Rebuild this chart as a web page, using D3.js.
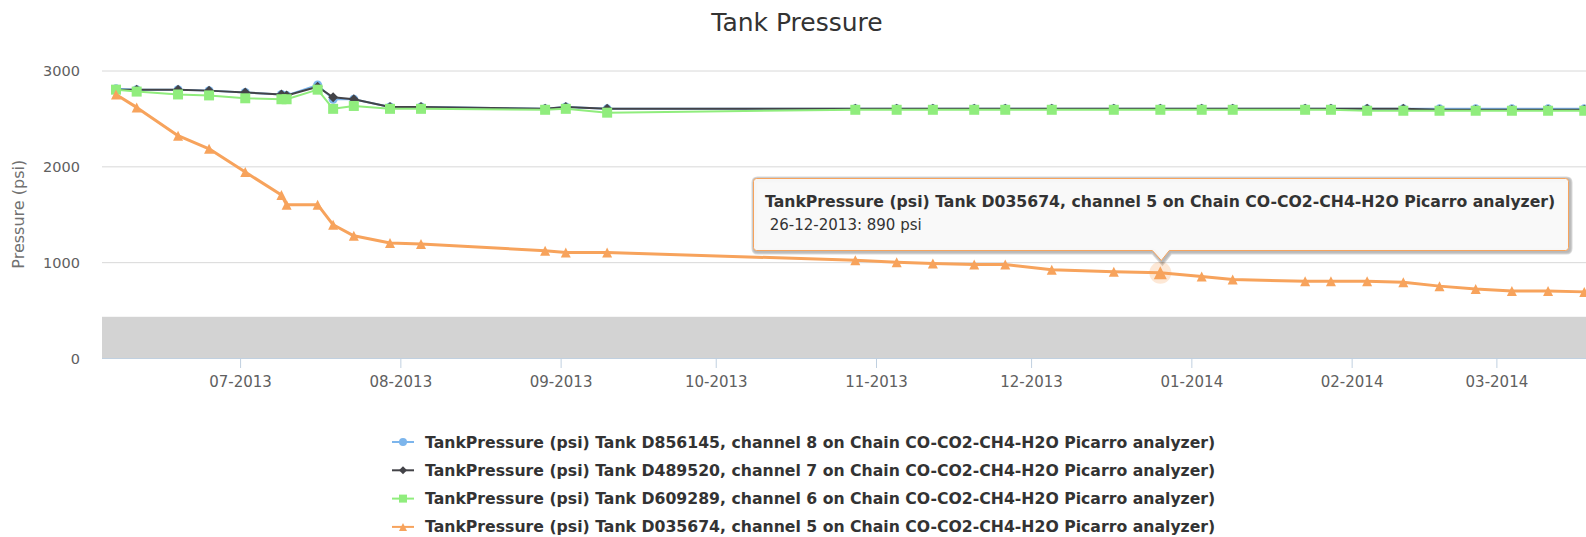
<!DOCTYPE html>
<html>
<head>
<meta charset="utf-8">
<script src="https://cdn.jsdelivr.net/npm/d3@7"></script>
<style>
  body { margin: 0; background: #fff; }
  svg { display: block; }
  text { font-family: "DejaVu Sans", sans-serif; }
</style>
</head>
<body>
<div id="chart"></div>
<script>
const dates = ["2013-06-07","2013-06-11","2013-06-19","2013-06-25","2013-07-02","2013-07-09","2013-07-10",
  "2013-07-16","2013-07-19","2013-07-23","2013-07-30","2013-08-05","2013-08-29","2013-09-02","2013-09-10",
  "2013-10-28","2013-11-05","2013-11-12","2013-11-20","2013-11-26","2013-12-05","2013-12-17","2013-12-26",
  "2014-01-03","2014-01-09","2014-01-23","2014-01-28","2014-02-04","2014-02-11","2014-02-18","2014-02-25",
  "2014-03-04","2014-03-11","2014-03-18"];

const tank8 = [2810,2800,2800,2790,2770,2750,2740,2850,2700,2700,2620,2620,2600,2620,2600,
  2600,2600,2600,2600,2600,2600,2600,2600,2600,2600,2600,2600,2600,2600,2600,2600,2600,2600,2600];
const tank7 = [2800,2800,2800,2790,2770,2750,2740,2830,2720,2700,2620,2620,2600,2620,2600,
  2600,2600,2600,2600,2600,2600,2600,2600,2600,2600,2600,2600,2600,2600,2590,2590,2590,2590,2590];
const tank6 = [2800,2780,2750,2740,2710,2700,2700,2800,2600,2630,2600,2600,2590,2600,2560,
  2590,2590,2590,2590,2590,2590,2590,2590,2590,2590,2590,2590,2580,2580,2580,2580,2580,2580,2580];
const tank5 = [2750,2615,2320,2183,1940,1700,1600,1600,1390,1275,1200,1190,1120,1100,1100,
  1020,1000,985,975,975,920,900,890,850,820,800,800,800,790,750,720,700,700,690];

const seriesNames = [
  "TankPressure (psi) Tank D856145, channel 8 on Chain CO-CO2-CH4-H2O Picarro analyzer)",
  "TankPressure (psi) Tank D489520, channel 7 on Chain CO-CO2-CH4-H2O Picarro analyzer)",
  "TankPressure (psi) Tank D609289, channel 6 on Chain CO-CO2-CH4-H2O Picarro analyzer)",
  "TankPressure (psi) Tank D035674, channel 5 on Chain CO-CO2-CH4-H2O Picarro analyzer)"
];
const seriesColors = ["#7cb5ec", "#434348", "#90ed7d", "#f7a35c"];
const seriesSymbols = ["circle", "diamond", "square", "triangle"];
const yTicks = [0, 1000, 2000, 3000];
const bandRange = [0, 430];
const hoverIndex = 22;

const parse = d3.timeParse("%Y-%m-%d");
const series = [tank8, tank7, tank6, tank5].map((vals, i) => ({
  name: seriesNames[i],
  color: seriesColors[i],
  symbol: seriesSymbols[i],
  points: vals.map((v, j) => ({ date: parse(dates[j]), value: v }))
}));

const width = 1586, height = 537;
const plot = { left: 102, top: 70.5, right: 1586, bottom: 358 };

const svg = d3.select("#chart").append("svg")
  .attr("width", width)
  .attr("height", height);

const x = d3.scaleTime()
  .domain([new Date(2013, 5, 4, 7), new Date(2014, 2, 18, 8)])
  .range([plot.left, plot.right]);

const y = d3.scaleLinear()
  .domain([0, 3000])
  .range([plot.bottom, plot.top]);

// title
svg.append("text")
  .attr("x", 797)
  .attr("y", 31)
  .attr("text-anchor", "middle")
  .style("font-size", "25px")
  .style("fill", "#333")
  .text("Tank Pressure");

// plot band
svg.append("rect")
  .attr("x", plot.left)
  .attr("y", y(bandRange[1]))
  .attr("width", plot.right - plot.left)
  .attr("height", y(bandRange[0]) - y(bandRange[1]))
  .attr("fill", "#d3d3d3");

// y grid + labels
const yAxis = svg.append("g")
  .attr("transform", `translate(${plot.left},0)`)
  .call(d3.axisLeft(y).tickValues(yTicks).tickFormat(d3.format("d"))
    .tickSize(-(plot.right - plot.left)).tickPadding(22))
  .call((g) => g.select(".domain").remove());
yAxis.selectAll(".tick line")
  .attr("stroke", (d) => d === 0 ? "none" : "#d8d8d8");
yAxis.selectAll(".tick text")
  .attr("dy", "0.35em")
  .style("font-family", "DejaVu Sans, sans-serif")
  .style("font-size", "14.5px")
  .style("fill", "#606060");

svg.append("text")
  .attr("transform", `translate(24, ${(plot.top + plot.bottom) / 2}) rotate(-90)`)
  .attr("text-anchor", "middle")
  .style("font-size", "16px")
  .style("fill", "#707070")
  .text("Pressure (psi)");

// x axis
const xAxis = svg.append("g")
  .attr("transform", `translate(0,${plot.bottom})`)
  .call(d3.axisBottom(x).ticks(d3.timeMonth.every(1)).tickFormat(d3.timeFormat("%m-%Y")).tickSize(10).tickPadding(8));
xAxis.select(".domain").attr("stroke", "#c0d0e0").attr("d", `M${plot.left},0.5H${plot.right}`);
xAxis.selectAll(".tick line").attr("stroke", "#c0d0e0");
xAxis.selectAll(".tick text")
  .style("font-family", "DejaVu Sans, sans-serif")
  .style("font-size", "15px")
  .style("fill", "#606060");

const symbolPath = (type, r) => {
  if (type === "circle") return `M${-r},0a${r},${r} 0 1,0 ${2 * r},0a${r},${r} 0 1,0 ${-2 * r},0Z`;
  if (type === "diamond") return `M0,${-r}L${r},0L0,${r}L${-r},0Z`;
  if (type === "square") return `M${-r},${-r}H${r}V${r}H${-r}Z`;
  return `M0,${-r}L${r},${r}H${-r}Z`;
};
const markerSize = { circle: 4.5, diamond: 5, square: 5, triangle: 5 };

const line = d3.line()
  .x((d) => x(d.date))
  .y((d) => y(d.value));

series.forEach((s) => {
  const g = svg.append("g");
  g.append("path")
    .datum(s.points)
    .attr("d", line)
    .attr("fill", "none")
    .attr("stroke", s.color)
    .attr("stroke-width", s.symbol === "triangle" ? 3 : 2)
    .attr("stroke-linejoin", "round");
  g.selectAll("path.marker")
    .data(s.points)
    .enter()
    .append("path")
    .attr("class", "marker")
    .attr("transform", (d) => `translate(${x(d.date)},${y(d.value)})`)
    .attr("d", symbolPath(s.symbol, markerSize[s.symbol]))
    .attr("fill", s.color);
});

// hovered point
const hs = series[3];
const hp = hs.points[hoverIndex];
const hx = x(hp.date), hy = y(hp.value);
svg.append("circle")
  .attr("cx", hx).attr("cy", hy).attr("r", 11)
  .attr("fill", hs.color).attr("opacity", 0.25);
svg.append("path")
  .attr("transform", `translate(${hx},${hy})`)
  .attr("d", symbolPath("triangle", 6.5))
  .attr("fill", hs.color);

// tooltip
const tip = { left: 753.5, top: 178.5, right: 1568.5, bottom: 250.5 };
const tipPath = `M${tip.left + 3},${tip.top}H${tip.right - 3}Q${tip.right},${tip.top} ${tip.right},${tip.top + 3}` +
  `V${tip.bottom - 3}Q${tip.right},${tip.bottom} ${tip.right - 3},${tip.bottom}` +
  `H${hx + 9}L${hx + 1},${tip.bottom + 10}L${hx - 8},${tip.bottom}` +
  `H${tip.left + 3}Q${tip.left},${tip.bottom} ${tip.left},${tip.bottom - 3}V${tip.top + 3}Q${tip.left},${tip.top} ${tip.left + 3},${tip.top}Z`;
[3, 2, 1].forEach((o) => {
  svg.append("path").attr("d", tipPath)
    .attr("transform", `translate(1,1)`)
    .attr("fill", "none").attr("stroke", "#000")
    .attr("stroke-opacity", 0.05 * o).attr("stroke-width", o * 2);
});
svg.append("path").attr("d", tipPath)
  .attr("fill", "rgba(249,249,249,0.95)")
  .attr("stroke", hs.color).attr("stroke-width", 1);
svg.append("text")
  .attr("x", 765).attr("y", 207)
  .style("font-size", "15.7px").style("font-weight", "bold").style("fill", "#333")
  .text(hs.name);
svg.append("text")
  .attr("x", 765).attr("y", 230)
  .style("font-size", "15px").style("fill", "#333")
  .text("\u00a0" + d3.timeFormat("%d-%m-%Y")(hp.date) + ": " + hp.value + " psi");

// legend
const legend = svg.append("g");
series.forEach((s, i) => {
  const ly = 442 + i * 28.3;
  const item = legend.append("g").attr("transform", `translate(392,${ly})`);
  item.append("path").attr("d", "M0,0H22").attr("stroke", s.color).attr("stroke-width", 2);
  item.append("path").attr("transform", "translate(11,0)").attr("d", symbolPath(s.symbol, 4)).attr("fill", s.color);
  item.append("text").attr("x", 33).attr("y", 5.5)
    .style("font-size", "15.7px").style("font-weight", "bold").style("fill", "#333")
    .text(s.name);
});
</script>
</body>
</html>
